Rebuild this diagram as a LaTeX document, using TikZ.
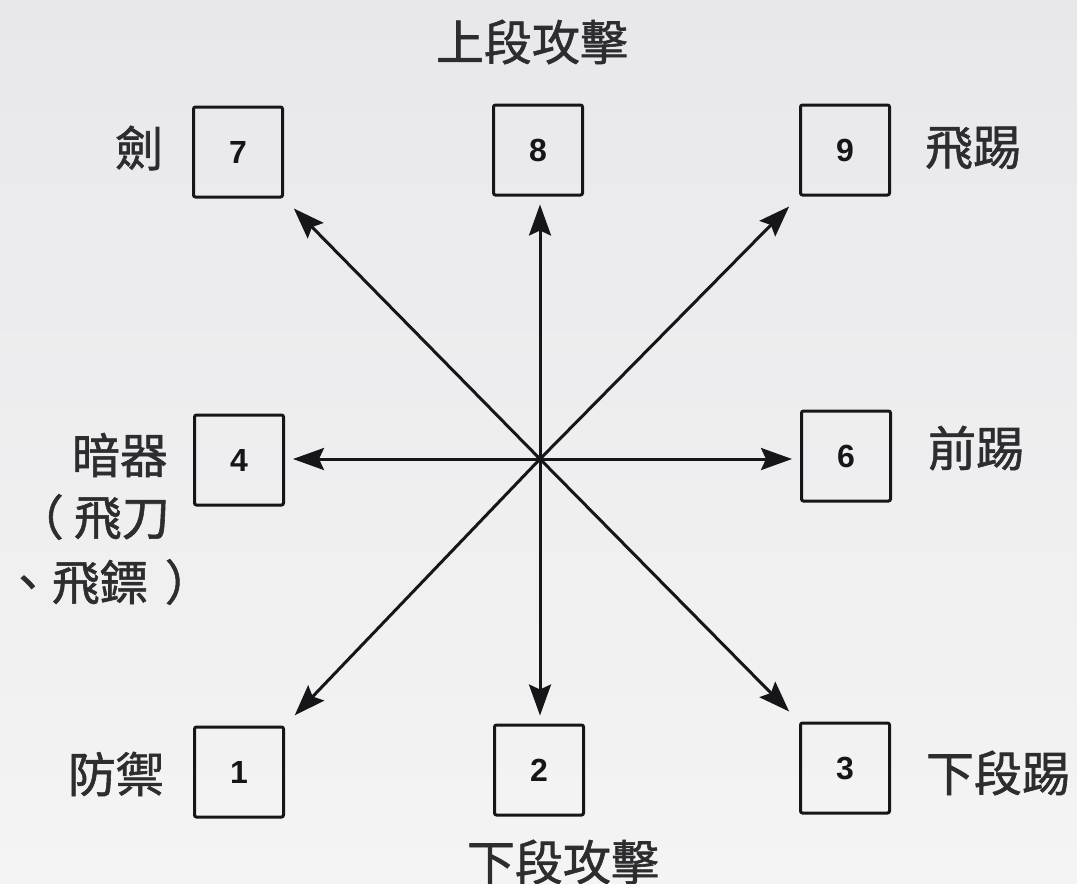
\documentclass[tikz,border=0pt]{standalone}
\usepackage{fontspec}
\setmainfont{Liberation Sans}
\newfontfamily\cjk[FakeBold=1.2]{Noto Sans CJK TC}
\usetikzlibrary{arrows.meta}
\definecolor{inkc}{RGB}{22,22,24}
\definecolor{txtc}{RGB}{45,45,48}
\definecolor{bgtop}{RGB}{232,232,235}
\definecolor{bgbot}{RGB}{244,244,244}
\begin{document}
\begin{tikzpicture}[x=1pt,y=-1pt,
  numbox/.style={draw=inkc, line width=3pt, minimum width=89pt, minimum height=90pt,
    inner sep=0pt, rounded corners=2pt, font=\fontsize{32}{34}\selectfont\bfseries, text=inkc},
  lbl/.style={font=\cjk\fontsize{48}{56}\selectfont, text=txtc, inner sep=0pt},
  arr/.style={draw=inkc, line width=3pt, -{Stealth[length=31pt,width=22pt,inset=5pt]}},
  diag/.style={arr, shorten >=14pt},
  orth/.style={arr, shorten >=8pt},
]
\path[use as bounding box, top color=bgtop, bottom color=bgbot] (0,0) rectangle (1077,884);

\node[numbox] (b7) at (238,152) {7};
\node[numbox] (b8) at (538,150) {8};
\node[numbox] (b9) at (845,150) {9};
\node[numbox] (b4) at (239,460) {4};
\node[numbox] (b6) at (846,456) {6};
\node[numbox] (b1) at (239,772) {1};
\node[numbox] (b2) at (539,770) {2};
\node[numbox] (b3) at (845,768) {3};
\coordinate (c) at (540,459);

\draw[diag] (c) -- (b7.south east);
\draw[orth] (c) -- (c |- b8.south);
\draw[diag] (c) -- (b9.south west);
\draw[orth] (c) -- (c -| b4.east);
\draw[orth] (c) -- (c -| b6.west);
\draw[diag] (c) -- (b1.north east);
\draw[orth] (c) -- (c |- b2.north);
\draw[diag] (c) -- (b3.north west);
\fill[inkc] (c) circle (4pt);

\node[lbl] (t8) at (532,42) {上段攻擊};
\node[lbl] (t7) at (139,148) {劍};
\node[lbl] (t9) at (973,148) {飛踢};
\node[lbl] (t6) at (976,448) {前踢};
\node[lbl] (t4) at (120,455) {暗器};
\node[lbl, anchor=east] (t4b) at (170,517) {（\hspace{10pt}飛刀};
\node[lbl, anchor=east] (t4c) at (213,582) {、飛鏢\hspace{17pt}）};
\node[lbl] (t1) at (116,774) {防禦};
\node[lbl] (t3) at (998,773) {下段踢};
\node[lbl] (t2) at (563,862) {下段攻擊};
\end{tikzpicture}
\end{document}
